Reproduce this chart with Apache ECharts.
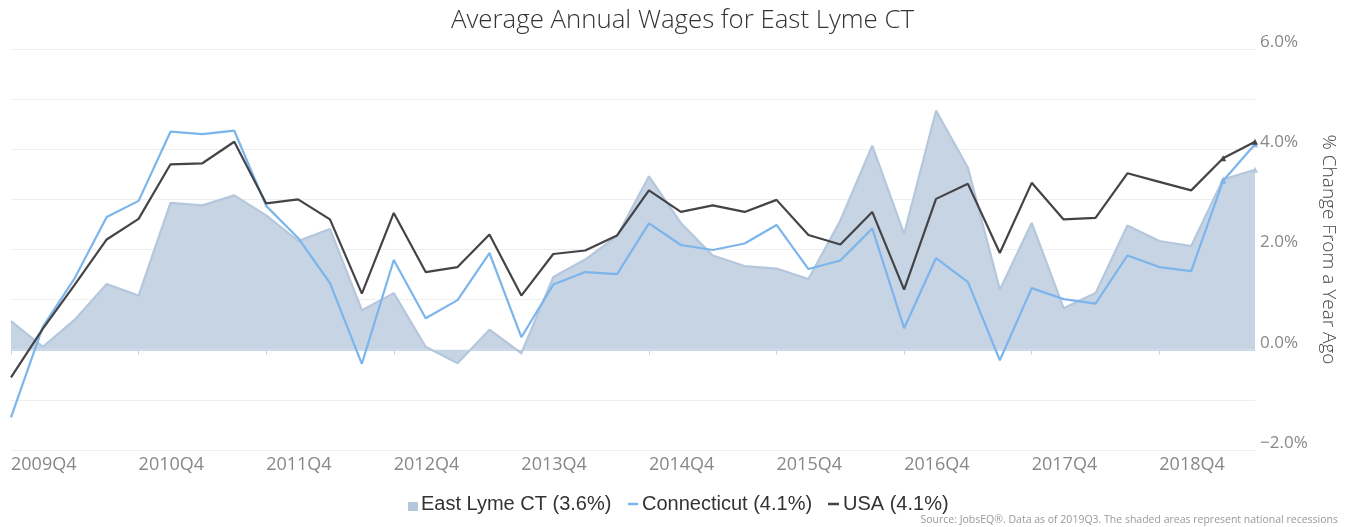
<!DOCTYPE html>
<html>
<head>
<meta charset="utf-8">
<script src="https://cdn.jsdelivr.net/npm/echarts@6/dist/echarts.min.js"></script>
<style>
html,body{margin:0;padding:0;background:#fff;}
#chart{width:1346px;height:527px;}
</style>
</head>
<body>
<div id="chart"></div>
<script>
const quarters = [
  '2009Q4',
  '2010Q1','2010Q2','2010Q3','2010Q4',
  '2011Q1','2011Q2','2011Q3','2011Q4',
  '2012Q1','2012Q2','2012Q3','2012Q4',
  '2013Q1','2013Q2','2013Q3','2013Q4',
  '2014Q1','2014Q2','2014Q3','2014Q4',
  '2015Q1','2015Q2','2015Q3','2015Q4',
  '2016Q1','2016Q2','2016Q3','2016Q4',
  '2017Q1','2017Q2','2017Q3','2017Q4',
  '2018Q1','2018Q2','2018Q3','2018Q4',
  '2019Q1','2019Q2','2019Q3'
];
const eastLyme = [
  0.57, 0.06, 0.60, 1.31, 1.08, 2.93, 2.88, 3.08, 2.68, 2.17,
  2.41, 0.79, 1.13, 0.06, -0.27, 0.40, -0.07, 1.45, 1.80, 2.27,
  3.46, 2.53, 1.88, 1.67, 1.62, 1.41, 2.58, 4.07, 2.31, 4.77,
  3.63, 1.20, 2.53, 0.83, 1.13, 2.48, 2.17, 2.07, 3.40, 3.59
];
const connecticut = [
  -1.35, 0.46, 1.43, 2.65, 2.97, 4.35, 4.30, 4.37, 2.87, 2.23,
  1.33, -0.28, 1.79, 0.63, 0.99, 1.93, 0.25, 1.30, 1.55, 1.51,
  2.52, 2.09, 1.99, 2.12, 2.49, 1.61, 1.78, 2.42, 0.43, 1.83,
  1.35, -0.21, 1.23, 1.01, 0.92, 1.88, 1.65, 1.57, 3.37, 4.10
];
const usa = [
  -0.55, 0.42, 1.30, 2.20, 2.61, 3.70, 3.72, 4.15, 2.92, 3.00,
  2.60, 1.12, 2.73, 1.55, 1.65, 2.30, 1.08, 1.91, 1.98, 2.28,
  3.18, 2.75, 2.88, 2.75, 2.99, 2.29, 2.10, 2.75, 1.20, 3.01,
  3.31, 1.93, 3.33, 2.60, 2.63, 3.52, 3.35, 3.18, 3.82, 4.15
];
const seriesNames = ['East Lyme CT (3.6%)', 'Connecticut (4.1%)', 'USA (4.1%)'];
const yTicks = [-2, 0, 2, 4, 6];

function withEndMarkers(arr) {
  return arr.map((v, i) => i >= arr.length - 2
    ? { value: v, symbol: 'triangle', symbolSize: 6 }
    : { value: v, symbol: 'none' });
}

const legendText = { fontFamily: 'Liberation Sans', fontSize: 20, color: '#333333', lineHeight: 20 };

const chart = echarts.init(document.getElementById('chart'));
chart.setOption({
  animation: false,
  backgroundColor: '#ffffff',
  title: {
    text: 'Average Annual Wages for East Lyme CT',
    left: 446,
    top: 3,
    textStyle: { fontFamily: 'Open Sans', fontWeight: 300, fontSize: 25.8, color: '#333333' }
  },
  grid: { left: 11, right: 91, top: 49, bottom: 77, containLabel: false },
  legend: [
    {
      left: 403, top: 489, itemWidth: 10, itemHeight: 14,
      textStyle: Object.assign({ padding: [0, 0, 0, -2] }, legendText),
      data: [{ name: seriesNames[0], icon: 'path://M0,0 M0,5 L10,5 L10,14 L0,14 Z' }]
    },
    {
      left: 623, top: 489, itemWidth: 10, itemHeight: 2.5,
      textStyle: Object.assign({ padding: [0, 0, 0, -1] }, legendText),
      data: [{ name: seriesNames[1], icon: 'rect' }]
    },
    {
      left: 823, top: 489, itemWidth: 11, itemHeight: 2.5,
      textStyle: Object.assign({ padding: [0, 0, 0, -1] }, legendText),
      data: [{ name: seriesNames[2], icon: 'rect' }]
    }
  ],
  xAxis: {
    type: 'category',
    data: quarters,
    boundaryGap: false,
    axisLine: { lineStyle: { color: '#c4d6ea', width: 1 } },
    axisTick: {
      show: true, length: 5, lineStyle: { color: '#c4d6ea' },
      interval: (i, v) => v.endsWith('Q4')
    },
    axisLabel: {
      interval: (i, v) => v.endsWith('Q4'),
      align: 'left',
      margin: 6,
      fontFamily: 'Open Sans',
      fontSize: 18,
      color: '#888888'
    },
    splitLine: { show: false }
  },
  yAxis: {
    type: 'value',
    position: 'right',
    min: -2,
    max: 6,
    interval: 1,
    name: '% Change From a Year Ago',
    nameLocation: 'middle',
    nameRotate: -90,
    nameGap: 62,
    nameTextStyle: { fontFamily: 'Open Sans', fontWeight: 300, fontSize: 19, color: '#444444' },
    axisLine: { show: false },
    axisTick: { show: false },
    axisLabel: {
      margin: 5,
      verticalAlign: 'bottom',
      lineHeight: 14,
      fontFamily: 'Open Sans',
      fontSize: 17,
      color: '#888888',
      formatter: v => yTicks.includes(v) ? (v < 0 ? '\u2212' : '') + Math.abs(v).toFixed(1) + '%' : ''
    },
    splitLine: { lineStyle: { color: '#eeeeee', width: 1 } }
  },
  series: [
    {
      name: seriesNames[0],
      type: 'line',
      data: withEndMarkers(eastLyme),
      color: '#b5c7dd',
      lineStyle: { color: '#b5c7dd', width: 2.2 },
      itemStyle: { color: '#b5c7dd' },
      areaStyle: { color: '#c6d4e3', opacity: 1 },
      z: 1
    },
    {
      name: seriesNames[1],
      type: 'line',
      data: withEndMarkers(connecticut),
      color: '#7cb5ec',
      lineStyle: { color: '#7cb5ec', width: 2.2 },
      itemStyle: { color: '#7cb5ec' },
      z: 2
    },
    {
      name: seriesNames[2],
      type: 'line',
      data: withEndMarkers(usa),
      color: '#434348',
      lineStyle: { color: '#434348', width: 2.2 },
      itemStyle: { color: '#434348' },
      z: 3
    }
  ],
  graphic: [{
    type: 'text',
    right: 8,
    bottom: 1,
    style: {
      text: 'Source: JobsEQ\u00AE. Data as of 2019Q3. The shaded areas represent national recessions',
      fontFamily: 'Open Sans',
      fontSize: 10.5,
      fill: '#999999'
    }
  }]
});
</script>
</body>
</html>
